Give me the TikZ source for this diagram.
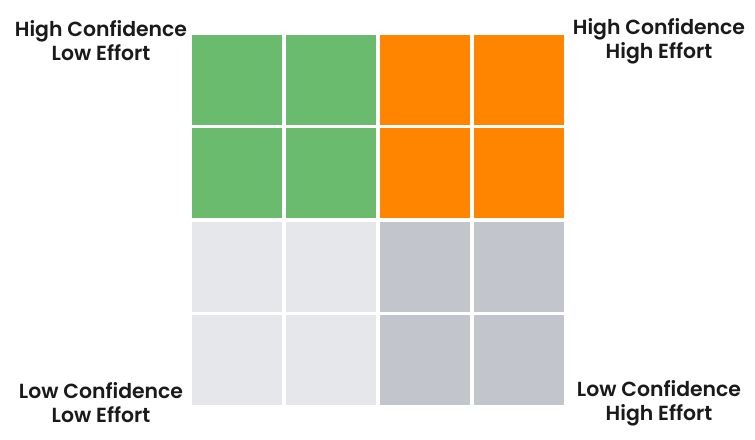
\documentclass[tikz,border=0pt]{standalone}
\usepackage{fontspec}
\setmainfont{Poppins}[UprightFont=* SemiBold]
\definecolor{cgreen}{HTML}{6BBB6E}
\definecolor{corange}{HTML}{FF8500}
\definecolor{clight}{HTML}{E5E7EB}
\definecolor{cdark}{HTML}{C3C5CC}
\definecolor{ctext}{HTML}{1A1A1A}
\begin{document}
\begin{tikzpicture}[x=1bp,y=-1bp,
  cell/.style={minimum width=90bp,minimum height=90bp,inner sep=0pt,outer sep=0pt,draw=none,anchor=north west},
  lbl/.style={align=center,font=\fontsize{20.4bp}{24bp}\selectfont,text=ctext,inner sep=0pt}]
\useasboundingbox[fill=white] (0,0) rectangle (755,440);
\foreach \r/\y in {1/35,2/128.3,3/221.7,4/315}{
  \foreach \c/\x in {1/192,2/286,3/380,4/474}{
    \pgfmathsetmacro{\col}{\r<3 ? (\c<3 ? 1 : 2) : (\c<3 ? 3 : 4)}
    \ifcase\numexpr\col\relax\or
      \node[cell,fill=cgreen] (c\r\c) at (\x,\y) {};\or
      \node[cell,fill=corange] (c\r\c) at (\x,\y) {};\or
      \node[cell,fill=clight] (c\r\c) at (\x,\y) {};\or
      \node[cell,fill=cdark] (c\r\c) at (\x,\y) {};\fi
  }
}
\node[lbl] (tl) at (101,41) {High Confidence\\Low Effort};
\node[lbl] (tr) at (659,41) {High Confidence\\High Effort};
\node[lbl] (bl) at (101,403) {Low Confidence\\Low Effort};
\node[lbl] (br) at (659,403) {Low Confidence\\High Effort};
\end{tikzpicture}
\end{document}
